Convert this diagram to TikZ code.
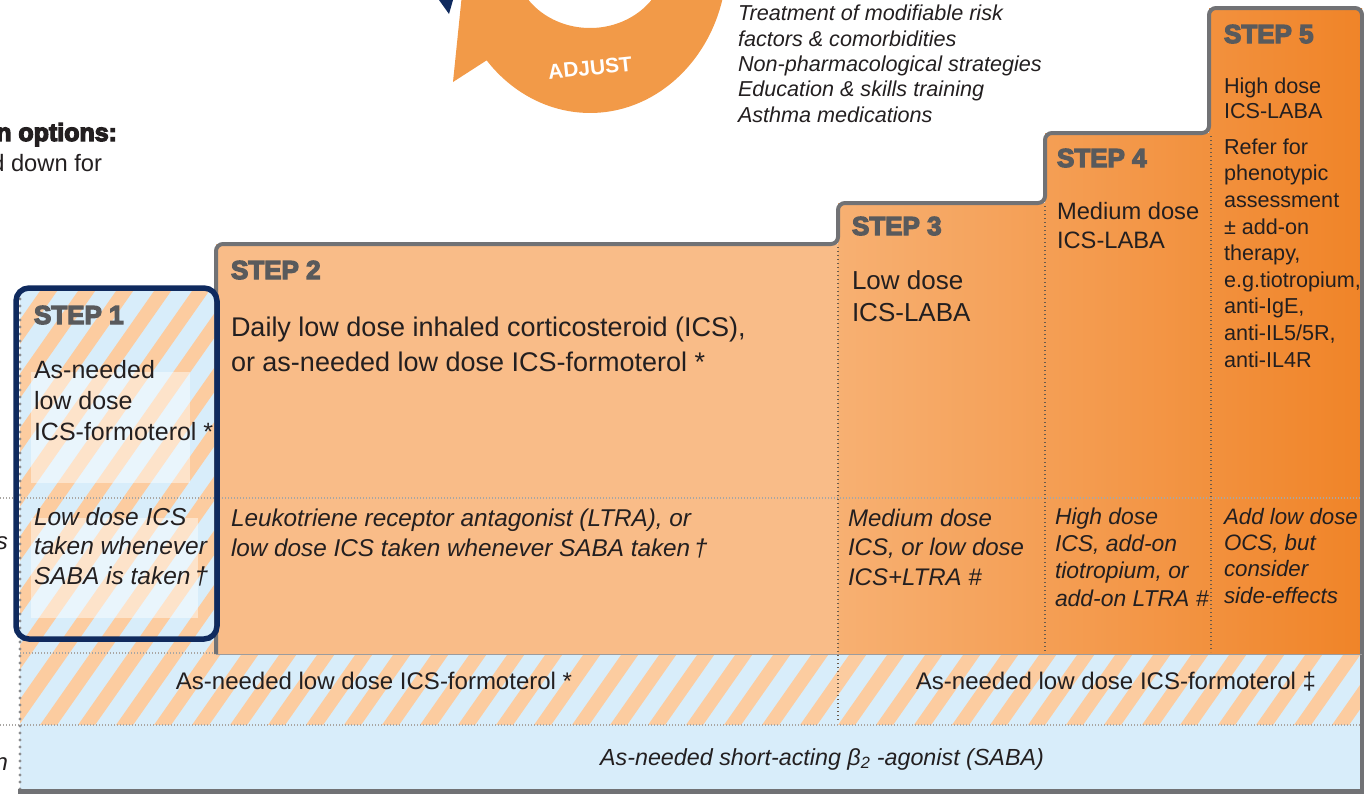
\documentclass[tikz,border=0pt]{standalone}
\usepackage{fontspec}
\setmainfont{Liberation Sans}
\newfontfamily\heavyfont{Liberation Sans Bold}[FakeBold=5]
\definecolor{ink}{HTML}{231F20}
\definecolor{stepgrey}{HTML}{595A5C}
\definecolor{navy}{HTML}{0F2A5E}
\definecolor{peach}{HTML}{F9BC88}
\definecolor{orA}{HTML}{F7B072}
\definecolor{orB}{HTML}{F08428}
\definecolor{skyband}{HTML}{D8EDFA}
\definecolor{stripeor}{HTML}{FCCCA0}
\definecolor{frame}{HTML}{717275}
\definecolor{arrowor}{HTML}{F29A48}
\definecolor{sepdot}{HTML}{6A5B4C}
\definecolor{hdot}{HTML}{A9A6A3}
\definecolor{leftdot}{HTML}{8C8D90}
\begin{document}
\begin{tikzpicture}[x=1pt,y=-1pt,
  % multi-line nodes: the base anchor sits on the last line
  txt/.style={anchor=base west, inner sep=0pt, outer sep=0pt, align=left, text=ink},
  ctr/.style={anchor=base, inner sep=0pt, outer sep=0pt, text=ink},
  cut/.style={anchor=base east, inner sep=0pt, outer sep=0pt, text=ink},
  stephead/.style={anchor=base west, inner sep=0pt, outer sep=0pt, text=stepgrey,
    font=\heavyfont\fontsize{26}{26}\selectfont},
  sepline/.style={draw=sepdot, line width=1.4pt, dash pattern=on 1.4pt off 2.6pt},
  hdots/.style={draw=hdot, line width=1.3pt, dash pattern=on 1.2pt off 1.8pt},
  leftdots/.style={draw=leftdot, line width=3.4pt, line cap=round, dash pattern=on 0pt off 7pt},
]
\useasboundingbox (0,0) rectangle (1364,793);
\clip (0,0) rectangle (1364,793);

% cycle arrow (ADJUST) and the end of the neighbouring blue arrow
\fill[navy] (439,0) -- (453,0) -- (449,14) -- cycle;
\fill[arrowor] (726.5,-26.7) arc[start angle=5, end angle=139, x radius=137, y radius=153]
  -- (453,82) -- (462,-6) -- (524.2,-6)
  arc[start angle=150, end angle=30, x radius=76, y radius=68] -- cycle;
\node[font=\bfseries\fontsize{21}{21}\selectfont, text=white, rotate=6, inner sep=0pt] (adj) at (590,68) {ADJUST};

% management list
\node[txt, font=\itshape\fontsize{21.6}{25.3}\selectfont] (mgmt) at (738,122)
  {Treatment of modifiable risk\\factors \& comorbidities\\Non-pharmacological strategies\\Education \& skills training\\Asthma medications};

% side headings, running off the left edge
\node[cut, font=\heavyfont\fontsize{25}{25}\selectfont] (optA) at (117,141) {medication options:};
\node[cut, font=\fontsize{23.7}{24}\selectfont] (optB) at (102,171) {up and down for};
\node[cut, font=\itshape\fontsize{24}{24}\selectfont] (ctrl) at (8,549) {options};
\node[cut, font=\itshape\fontsize{24}{24}\selectfont] (rel) at (8,770) {option};

% striped reliever band and step 1 background
\begin{scope}
  \clip (20,288) rectangle (216,725) (216,654) rectangle (1362,725);
  \fill[skyband] (0,280) rectangle (1364,730);
  \foreach \k in {-10,...,37} \draw[stripeor, line width=14pt] (\k*38,740) -- ++(330,-471);
\end{scope}

% SABA band
\fill[skyband] (20,725) rectangle (1362,790);

% controller steps
\fill[peach] (216,244) rectangle (838,654);
\shade[left color=orA, right color=orB] (838,203) -- (1045,203) -- (1045,133) -- (1209,133)
  -- (1209,8) -- (1362,8) -- (1362,654) -- (838,654) -- cycle;

% light panels behind step 1 text
\fill[white, opacity=0.45] (31,372) rectangle (190,483);
\fill[white, opacity=0.45] (31,518) rectangle (198,618);

% dotted guides
\draw[hdots] (0,498) -- (1362,498);
\draw[hdots] (0,725) -- (1362,725);
\draw[hdots] (20,653) -- (216,653);
\draw[leftdots] (20,292) -- (20,790);
\draw[sepline] (838,247) -- (838,722);
\draw[sepline] (1045,206) -- (1045,652);
\draw[sepline] (1211,136) -- (1211,652);

% staircase outline
\draw[frame, line width=4pt, rounded corners=7pt] (216,654) -- (216,244) -- (838,244) -- (838,203)
  -- (1045,203) -- (1045,133) -- (1209,133) -- (1209,8) -- (1362,8) -- (1362,791);
\draw[frame!70, line width=1.5pt] (216,654.5) -- (1362,654.5);
\draw[frame, line width=5pt] (18,791) -- (1364,791);

% step 1 frame
\draw[navy, line width=5.5pt, rounded corners=13pt] (16,288) rectangle (217,639);

% step 1
\node[stephead] (s1h) at (34,324) {STEP 1};
\node[txt, font=\fontsize{25}{31}\selectfont] (s1a) at (34,440) {As-needed\\low dose\\ICS-formoterol *};
\node[txt, font=\itshape\fontsize{24.5}{29.5}\selectfont] (s1b) at (34,584) {Low dose ICS\\taken whenever\\SABA is taken\,†};

% step 2
\node[stephead] (s2h) at (231,279) {STEP 2};
\node[txt, font=\fontsize{27}{35}\selectfont] (s2a) at (231,371)
  {Daily low dose inhaled corticosteroid (ICS),\\or as-needed low dose ICS-formoterol *};
\node[txt, font=\itshape\fontsize{24.3}{30}\selectfont] (s2b) at (231,556)
  {Leukotriene receptor antagonist (LTRA), or\\low dose ICS taken whenever SABA taken\,†};

% step 3
\node[stephead] (s3h) at (852,235) {STEP 3};
\node[txt, font=\fontsize{26}{32}\selectfont] (s3a) at (852,321) {Low dose\\ICS-LABA};
\node[txt, font=\itshape\fontsize{24}{29.5}\selectfont] (s3b) at (848,585) {Medium dose\\ICS, or low dose\\ICS+LTRA \#};

% step 4
\node[stephead] (s4h) at (1057,167) {STEP 4};
\node[txt, font=\fontsize{23.7}{29}\selectfont] (s4a) at (1057,248) {Medium dose\\ICS-LABA};
\node[txt, font=\itshape\fontsize{22.9}{27.3}\selectfont] (s4b) at (1055,606) {High dose\\ICS, add-on\\tiotropium, or\\add-on LTRA \#};

% step 5
\node[stephead] (s5h) at (1224,43) {STEP 5};
\node[txt, font=\fontsize{21.6}{25}\selectfont] (s5a) at (1224,118) {High dose\\ICS-LABA};
\node[txt, font=\fontsize{21.6}{26.6}\selectfont] (s5b) at (1224,367)
  {Refer for\\phenotypic\\assessment\\± add-on\\therapy,\\e.g.tiotropium,\\anti-IgE,\\anti-IL5/5R,\\anti-IL4R};
\node[txt, font=\itshape\fontsize{22.3}{26.3}\selectfont] (s5c) at (1224,603) {Add low dose\\OCS, but\\consider\\side-effects};

% reliever bands
\node[ctr, font=\fontsize{24}{24}\selectfont] (band1) at (374,689) {As-needed low dose ICS-formoterol *};
\node[ctr, font=\fontsize{24}{24}\selectfont] (band2) at (1116,689) {As-needed low dose ICS-formoterol ‡};
\node[ctr, font=\itshape\fontsize{23.3}{23.3}\selectfont] (saba) at (822,765)
  {As-needed short-acting β\textsubscript{2} -agonist (SABA)};
\end{tikzpicture}
\end{document}
